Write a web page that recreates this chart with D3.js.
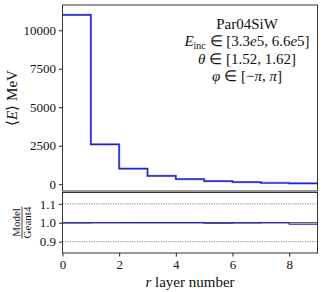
<!DOCTYPE html>
<html><head><meta charset="utf-8">
<script src="https://cdn.jsdelivr.net/npm/d3@7"></script>
<style>body{margin:0;background:#fff}svg{display:block}svg text{font-family:"Liberation Serif",serif !important;fill:#111}</style>
</head><body><svg id="c" width="324" height="292"></svg>
<script>
const layers = [0,1,2,3,4,5,6,7,8];
const geant4 = [11000, 2590, 1010, 540, 330, 200, 130, 82, 61];
const model  = [11000, 2590, 1010, 542, 331, 199, 130, 80, 60];
const ratio  = [0.999, 1.000, 1.001, 1.001, 1.001, 0.998, 0.999, 1.000, 0.992];
const mainTicks = [0, 2500, 5000, 7500, 10000];
const ratioTicks = [0.9, 1.0, 1.1];
const xTicks = [0, 2, 4, 6, 8];
const title = "Par04SiW";

const FF = "Liberation Serif";
const svg = d3.select("#c");
const L = 62.5, R = 317.5;
const x = d3.scaleLinear().domain([0, 9]).range([L, R]);
const y = d3.scaleLinear().domain([-440, 11640]).range([191, 5]);
const yr = d3.scaleLinear().domain([0.84, 1.16]).range([253, 192.5]);

function stepData(vals){ const d = vals.map((v,i)=>[layers[i], v]); d.push([9, vals[vals.length-1]]); return d; }
const stepLine = ys => d3.line().x(d=>x(d[0])).y(d=>ys(d[1])).curve(d3.curveStepAfter);

// main panel
svg.append("path").datum(stepData(geant4)).attr("d", stepLine(y)).attr("fill","none").attr("stroke","#8c8cf0").attr("stroke-width",2.2);
svg.append("path").datum(stepData(model)).attr("d", stepLine(y)).attr("fill","none").attr("stroke","#2020c8").attr("stroke-width",1.2);

function styleAxis(g){
  g.attr("font-family", FF);
  g.select(".domain").remove();
  g.selectAll("text").attr("font-size",13).style("font-family",FF);
  g.selectAll("line").attr("stroke","#222");
}
const ya = svg.append("g").attr("transform",`translate(${L},0)`).call(d3.axisLeft(y).tickValues(mainTicks).tickSize(3.5).tickPadding(3).tickFormat(d3.format("d")));
styleAxis(ya);

svg.append("rect").attr("x",L).attr("y",5).attr("width",R-L).attr("height",186).attr("fill","none").attr("stroke","#333").attr("stroke-width",1);

// ratio panel
ratioTicks.filter(t=>t!==1.0).forEach(t=>{
  svg.append("line").attr("x1",L).attr("x2",R).attr("y1",yr(t)).attr("y2",yr(t)).attr("stroke","#777").attr("stroke-width",0.9).attr("stroke-dasharray","1.2,1.2");
});
svg.append("line").attr("x1",L).attr("x2",R).attr("y1",yr(1)).attr("y2",yr(1)).attr("stroke","#333").attr("stroke-width",1);
svg.append("path").datum(stepData(ratio)).attr("d", stepLine(yr)).attr("fill","none").attr("stroke","#2020c8").attr("stroke-width",1.2);

const ra = svg.append("g").attr("transform",`translate(${L},0)`).call(d3.axisLeft(yr).tickValues(ratioTicks).tickSize(3.5).tickPadding(3).tickFormat(d3.format(".1f")));
styleAxis(ra);
const xa = svg.append("g").attr("transform",`translate(0,253)`).call(d3.axisBottom(x).tickValues(xTicks).tickSize(3.5).tickPadding(3).tickFormat(d3.format("d")));
styleAxis(xa);

svg.append("rect").attr("x",L).attr("y",192.5).attr("width",R-L).attr("height",60.5).attr("fill","none").attr("stroke","#333").attr("stroke-width",1);

// info text
const cx = 247;
function T(sel){ return sel.style("font-family",FF); }
T(svg.append("text").attr("x",cx).attr("y",29).attr("text-anchor","middle").attr("font-size",15).text(title));
const t1 = T(svg.append("text").attr("x",cx).attr("y",46).attr("text-anchor","middle").attr("font-size",15));
t1.append("tspan").attr("font-style","italic").text("E");
t1.append("tspan").attr("font-size",10).attr("dy",3).text("inc");
t1.append("tspan").attr("dy",-3).text(" ∈ [3.3");
t1.append("tspan").attr("font-style","italic").text("e");
t1.append("tspan").text("5, 6.6");
t1.append("tspan").attr("font-style","italic").text("e");
t1.append("tspan").text("5]");
const t2 = T(svg.append("text").attr("x",cx).attr("y",64).attr("text-anchor","middle").attr("font-size",15));
t2.append("tspan").attr("font-style","italic").text("θ");
t2.append("tspan").text(" ∈ [1.52, 1.62]");
const t3 = T(svg.append("text").attr("x",cx).attr("y",81).attr("text-anchor","middle").attr("font-size",15));
t3.append("tspan").attr("font-style","italic").text("φ");
t3.append("tspan").text(" ∈ [−");
t3.append("tspan").attr("font-style","italic").text("π");
t3.append("tspan").text(", ");
t3.append("tspan").attr("font-style","italic").text("π");
t3.append("tspan").text("]");

// y label
const yl = T(svg.append("text").attr("transform","translate(17,98) rotate(-90)").attr("text-anchor","middle").attr("font-size",15));
yl.append("tspan").text("⟨");
yl.append("tspan").attr("font-style","italic").text("E");
yl.append("tspan").text("⟩ MeV");

// ratio label (fraction)
const rl = svg.append("g").attr("transform","translate(22,222.5) rotate(-90)");
T(rl.append("text").attr("x",0).attr("y",-2.5).attr("text-anchor","middle").attr("font-size",11).text("Model"));
rl.append("line").attr("x1",-16).attr("x2",16).attr("y1",0).attr("y2",0).attr("stroke","#111").attr("stroke-width",0.8);
T(rl.append("text").attr("x",0).attr("y",9).attr("text-anchor","middle").attr("font-size",11).text("Geant4"));

// x label
const xl = T(svg.append("text").attr("x",(L+R)/2).attr("y",287).attr("text-anchor","middle").attr("font-size",15));
xl.append("tspan").attr("font-style","italic").text("r");
xl.append("tspan").text(" layer number");
</script></body></html>
